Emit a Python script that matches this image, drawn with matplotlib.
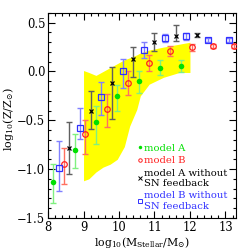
import matplotlib
matplotlib.use("Agg")
import matplotlib.pyplot as plt
from matplotlib.lines import Line2D
from matplotlib.ticker import MultipleLocator

plt.rcParams['font.family'] = ['DejaVu Serif']
plt.rcParams['mathtext.fontset'] = 'dejavuserif'

# model A
a_x = [8.15, 8.75, 9.35, 9.95, 10.55, 11.15, 11.75]
a_y = [-1.13, -0.80, -0.52, -0.25, -0.10, 0.04, 0.06]
a_hi = [-0.95, -0.64, -0.35, -0.14, 0.00, 0.12, 0.12]
a_lo = [-1.35, -0.99, -0.74, -0.40, -0.22, -0.04, -0.01]

# model B
b_x = [8.45, 9.05, 9.65, 10.25, 10.85, 11.45, 12.05, 12.65, 13.25]
b_y = [-0.95, -0.64, -0.38, -0.12, 0.09, 0.21, 0.25, 0.26, 0.26]
b_hi = [-0.78, -0.50, -0.23, 0.01, 0.17, 0.26, 0.28, 0.28, 0.28]
b_lo = [-1.15, -0.85, -0.57, -0.24, 0.00, 0.16, 0.21, 0.24, 0.24]

# model A without SN feedback
ans_x = [8.6, 9.2, 9.8, 10.4, 11.0, 11.6, 12.2]
ans_y = [-0.78, -0.40, -0.12, 0.13, 0.30, 0.36, 0.37]
ans_hi = [-0.52, -0.20, 0.05, 0.25, 0.39, 0.48, 0.39]
ans_lo = [-1.05, -0.59, -0.49, -0.06, 0.21, 0.31, 0.35]

# model B without SN feedback
bns_x = [8.3, 8.9, 9.5, 10.1, 10.7, 11.3, 11.9, 12.5, 13.1]
bns_y = [-0.99, -0.58, -0.26, 0.00, 0.22, 0.34, 0.36, 0.32, 0.32]
bns_hi = [-0.71, -0.37, -0.11, 0.13, 0.30, 0.38, 0.39, 0.34, 0.34]
bns_lo = [-1.22, -0.69, -0.45, -0.17, 0.14, 0.30, 0.32, 0.30, 0.30]

# observed band
band_x = [9.0, 9.15, 9.35, 9.55, 9.75, 9.95, 10.15, 10.3, 10.5, 10.6, 10.85, 11.25, 11.7, 12.0]
band_hi = [0.01, -0.01, -0.04, 0.0, 0.04, 0.08, 0.12, 0.14, 0.17, 0.19, 0.22, 0.25, 0.28, 0.30]
band_lo = [-1.12, -1.10, -1.03, -0.98, -0.95, -0.90, -0.77, -0.56, -0.39, -0.25, -0.13, -0.06, -0.01, -0.01]

fig = plt.figure(figsize=(2.49, 2.49), dpi=100)
ax = fig.add_axes([0.193, 0.125, 0.755, 0.823])

ax.fill_between(band_x, band_lo, band_hi, color='#ffff00', lw=0, zorder=1)


def draw(x, y, hi, lo, color, ecolor, **mk):
    yerr = [[v - l for v, l in zip(y, lo)], [h - v for v, h in zip(y, hi)]]
    ax.errorbar(x, y, yerr=yerr, fmt='none', ecolor=ecolor, elinewidth=1.0,
                capsize=2.2, capthick=1.0, zorder=2)
    ax.plot(x, y, ls='none', color=color, zorder=3, **mk)


draw(a_x, a_y, a_hi, a_lo, '#00e000', '#80f080', marker='o', ms=4, mec='none')
draw(b_x, b_y, b_hi, b_lo, '#ff2020', '#ff7060', marker='o', ms=4, mfc='none', mew=0.9)
draw(ans_x, ans_y, ans_hi, ans_lo, 'black', '#606060', marker='x', ms=3, mew=0.9)
draw(bns_x, bns_y, bns_hi, bns_lo, '#3030ff', '#8080ff', marker='s', ms=4.5, mfc='none', mew=0.9)

ax.set_xlim(8, 13.3)
ax.set_ylim(-1.5, 0.6)
ax.xaxis.set_major_locator(MultipleLocator(1))
ax.xaxis.set_minor_locator(MultipleLocator(0.2))
ax.yaxis.set_major_locator(MultipleLocator(0.5))
ax.yaxis.set_minor_locator(MultipleLocator(0.1))
ax.tick_params(which='both', direction='in', top=True, right=True, labelsize=8.3, width=0.8)
ax.tick_params(which='major', length=5, pad=2)
ax.tick_params(which='minor', length=2.5)
ax.set_xlabel(r'$\mathrm{log_{10}(M_{Stellar}/M_{\odot})}$', fontsize=7.8, va='top')
ax.set_ylabel(r'$\mathrm{log_{10}(Z/Z_{\odot})}$', fontsize=8, va='center')
ax.xaxis.set_label_coords(0.5, -0.082)
ax.yaxis.set_label_coords(-0.21, 0.48)

handles = [
    Line2D([], [], ls='none', marker='o', ms=2.5, color='#00e000', mec='none'),
    Line2D([], [], ls='none', marker='o', ms=2.5, color='#ff2020', mfc='none', mew=0.7),
    Line2D([], [], ls='none', marker='x', ms=2.5, color='black', mew=0.7),
    Line2D([], [], ls='none', marker='s', ms=2.5, color='#3030ff', mfc='none', mew=0.7),
]
labels = ['model A', 'model B', 'model A without\nSN feedback', 'model B without\nSN feedback']
leg = ax.legend(handles, labels, loc='lower left', bbox_to_anchor=(0.44, 0.0),
                frameon=False, fontsize=7.2, handlelength=0.4, handletextpad=0.2,
                labelspacing=0.35, borderpad=0.2,
                labelcolor=['#00e000', '#ff2020', 'black', '#3030ff'])

fig.savefig('out.png', dpi=100)
